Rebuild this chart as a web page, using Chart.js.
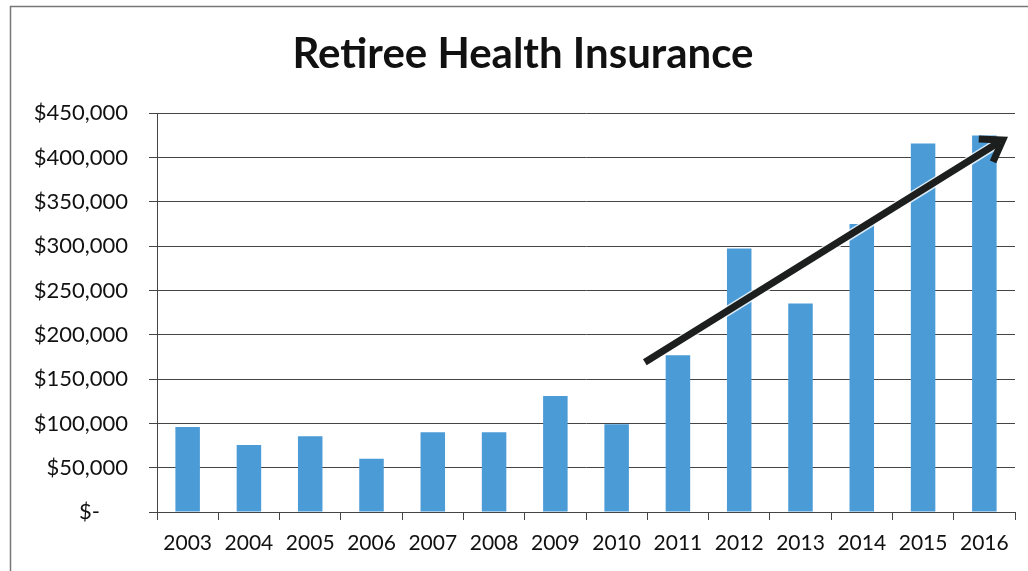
<!DOCTYPE html>
<html>
<head>
<meta charset="utf-8">
<script src="https://cdn.jsdelivr.net/npm/chart.js@4"></script>
<style>
  html, body { margin: 0; padding: 0; background: #fff; }
  #wrap { width: 1028px; height: 571px; position: relative; }
</style>
</head>
<body>
<div id="wrap"><canvas id="chart"></canvas></div>
<script>
// data
const years = ['2003', '2004', '2005', '2006', '2007', '2008', '2009', '2010', '2011', '2012', '2013', '2014', '2015', '2016'];
const costs = [96000, 75500, 85500, 60000, 90000, 90000, 131000, 99000, 177000, 297500, 235500, 325000, 416000, 425000];
const yTicks = [0, 50000, 100000, 150000, 200000, 250000, 300000, 350000, 400000, 450000];

// trend arrow, in category index / dollar units
const arrowFrom = [7.46, 169000];
const arrowTo = [13.3, 420000];

const fontFam = 'Lato, "Open Sans", sans-serif';

// outer frame of the original figure
const framePlugin = {
  id: 'frame',
  beforeDraw(chart) {
    const ctx = chart.ctx;
    ctx.save();
    ctx.strokeStyle = '#777';
    ctx.lineWidth = 1.5;
    ctx.strokeRect(10.5, 6.5, chart.width + 20, chart.height + 20);
    ctx.restore();
  }
};

const arrowPlugin = {
  id: 'arrow',
  afterDatasetsDraw(chart) {
    const x = chart.scales.x, y = chart.scales.y;
    const x1 = x.getPixelForValue(arrowFrom[0]), y1 = y.getPixelForValue(arrowFrom[1]);
    const x2 = x.getPixelForValue(arrowTo[0]), y2 = y.getPixelForValue(arrowTo[1]);
    const ang = Math.atan2(y2 - y1, x2 - x1);
    const ctx = chart.ctx;
    ctx.save();
    ctx.lineCap = 'butt';
    ctx.lineJoin = 'miter';
    // light halo
    ctx.strokeStyle = 'rgba(255,255,255,0.8)';
    ctx.lineWidth = 10;
    ctx.beginPath();
    ctx.moveTo(x1, y1);
    ctx.lineTo(x2 - 6 * Math.cos(ang), y2 - 6 * Math.sin(ang));
    ctx.stroke();
    ctx.strokeStyle = '#1c1f1e';
    ctx.lineWidth = 7;
    ctx.beginPath();
    ctx.moveTo(x1, y1);
    ctx.lineTo(x2 - 4 * Math.cos(ang), y2 - 4 * Math.sin(ang));
    ctx.stroke();
    // head
    const len = 24, spread = 0.6;
    ctx.lineWidth = 7;
    ctx.beginPath();
    ctx.moveTo(x2 - len * Math.cos(ang - spread), y2 - len * Math.sin(ang - spread));
    ctx.lineTo(x2, y2);
    ctx.lineTo(x2 - len * Math.cos(ang + spread), y2 - len * Math.sin(ang + spread));
    ctx.stroke();
    ctx.restore();
  }
};

new Chart(document.getElementById('chart'), {
  type: 'bar',
  data: {
    labels: years,
    datasets: [{
      data: costs,
      backgroundColor: '#4b9bd7',
      barPercentage: 0.4,
      categoryPercentage: 1
    }]
  },
  options: {
    responsive: true,
    maintainAspectRatio: false,
    animation: false,
    layout: { padding: { left: 31, right: 13, top: 0, bottom: 10 } },
    plugins: {
      legend: { display: false },
      tooltip: { enabled: false },
      title: {
        display: true,
        text: 'Retiree Health Insurance',
        color: '#111',
        font: { family: fontFam, size: 42, weight: 'bold' },
        padding: { top: 29, bottom: 34 }
      }
    },
    scales: {
      x: {
        grid: { display: true, drawOnChartArea: false, offset: true, color: '#444', tickLength: 8 },
        border: { color: '#444', width: 1 },
        ticks: { color: '#111', font: { family: fontFam, size: 21 }, padding: 11, maxRotation: 0 },
        afterFit(s) { s.height = 49; }
      },
      y: {
        min: 0,
        max: 450000,
        afterBuildTicks(s) { s.ticks = yTicks.map(v => ({ value: v })); },
        grid: { color: '#444', lineWidth: 1, tickLength: 8 },
        border: { color: '#444', width: 1 },
        ticks: {
          color: '#111',
          font: { family: fontFam, size: 22 },
          padding: 21,
          callback: v => v === 0 ? '$-     ' : '$' + v.toLocaleString('en-US')
        },
        afterFit(s) { s.width = 126; }
      }
    }
  },
  plugins: [framePlugin, arrowPlugin]
});
</script>
</body>
</html>
